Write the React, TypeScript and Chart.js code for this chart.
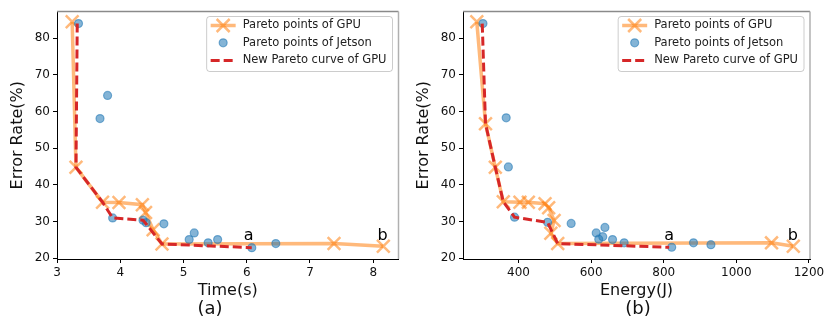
import React, { useEffect, useRef } from 'react';
import { Chart, registerables } from 'chart.js';

Chart.register(...registerables);

const FONT = "'DejaVu Sans', sans-serif";

// ---- data: panel (a) Time ----
const gpuTime = [3.24, 3.30, 3.72, 3.98, 4.35, 4.40, 4.52, 4.66, 7.38, 8.16];
const gpuTimeErr = [84.5, 44.8, 35.3, 35.2, 34.6, 32.5, 27.8, 23.9, 24.0, 23.3];
const jetsonTime = [3.34, 3.68, 3.80, 3.88, 4.36, 4.41, 4.69, 5.09, 5.17, 5.39, 5.54, 6.08, 6.46];
const jetsonTimeErr = [84.0, 58.1, 64.4, 31.0, 30.4, 29.7, 29.4, 25.1, 26.9, 24.2, 25.1, 22.9, 24.0];
const newTime = [3.32, 3.30, 3.72, 3.88, 4.36, 4.66, 6.08];
const newTimeErr = [84.0, 44.8, 35.3, 31.0, 30.4, 23.9, 22.9];

// ---- data: panel (b) Energy ----
const gpuEnergy = [285, 309, 336, 358, 404, 427, 473, 483, 498, 489, 508, 1097, 1157];
const gpuEnergyErr = [84.5, 56.7, 44.8, 35.4, 35.3, 35.3, 34.9, 33.8, 30.3, 26.8, 24.0, 24.2, 23.3];
const jetsonEnergy = [302, 366, 372, 389, 480, 545, 614, 621, 632, 638, 659, 691, 822, 882, 930];
const jetsonEnergyErr = [84.0, 58.3, 44.9, 31.2, 29.8, 29.5, 26.9, 25.2, 25.9, 28.4, 25.1, 24.2, 23.0, 24.2, 23.7];
const newEnergy = [300, 309, 336, 358, 389, 480, 508, 815];
const newEnergyErr = [84.0, 56.7, 44.8, 35.4, 31.2, 29.8, 24.0, 23.0];

// ---- ticks / labels ----
const timeTicks = [3, 4, 5, 6, 7, 8];
const energyTicks = [400, 600, 800, 1000, 1200];
const errorTicks = [20, 30, 40, 50, 60, 70, 80];
const legendLabels = ['Pareto points of GPU', 'Pareto points of Jetson', 'New Pareto curve of GPU'];
const timeNotes = [
  { text: 'a', x: 6.03, y: 25.0 },
  { text: 'b', x: 8.15, y: 25.0 },
];
const energyNotes = [
  { text: 'a', x: 815, y: 25.0 },
  { text: 'b', x: 1156, y: 25.0 },
];

const ORANGE = 'rgba(255,127,14,0.55)';
const BLUE = 'rgba(31,119,180,0.55)';
const RED = '#d62728';

const pts = (xs: number[], ys: number[]) => xs.map((x, i) => ({ x, y: ys[i] }));

const decorPlugin = {
  id: 'decor',
  afterDraw(chart: any, _args: any, opts: any) {
    const { ctx, chartArea: a, scales } = chart;
    ctx.save();
    // top / right spines
    ctx.lineWidth = 1.5;
    ctx.strokeStyle = '#8a8a8a';
    ctx.beginPath();
    ctx.moveTo(a.left, a.top);
    ctx.lineTo(a.right, a.top);
    ctx.stroke();
    ctx.strokeStyle = '#b0b0b0';
    ctx.beginPath();
    ctx.moveTo(a.right, a.top);
    ctx.lineTo(a.right, a.bottom);
    ctx.stroke();

    // annotations
    ctx.font = `16px ${FONT}`;
    ctx.fillStyle = '#000';
    ctx.textAlign = 'center';
    ctx.textBaseline = 'alphabetic';
    const notes = opts.notes || [];
    for (let i = 0; i < notes.length; i++) {
      const n = notes[i];
      ctx.fillText(n.text, scales.x.getPixelForValue(n.x), scales.y.getPixelForValue(n.y));
    }

    // legend
    ctx.font = `11.5px ${FONT}`;
    let textW = 0;
    legendLabels.forEach((l) => {
      textW = Math.max(textW, ctx.measureText(l).width);
    });
    const padL = 4, sample = 25, gap = 7, padR = 6;
    const w = padL + sample + gap + textW + padR;
    const h = 55;
    const x0 = a.right - 6 - w;
    const y0 = a.top + 5;
    ctx.beginPath();
    if (ctx.roundRect) ctx.roundRect(x0, y0, w, h, 3);
    else ctx.rect(x0, y0, w, h);
    ctx.fillStyle = 'rgba(255,255,255,0.85)';
    ctx.fill();
    ctx.lineWidth = 1;
    ctx.strokeStyle = 'rgba(0,0,0,0.2)';
    ctx.stroke();

    const sx = x0 + padL;
    const cx = sx + sample / 2;
    const rows = [y0 + 9, y0 + 26.3, y0 + 44];
    // row 0: orange line + X
    ctx.strokeStyle = ORANGE;
    ctx.lineWidth = 3.5;
    ctx.beginPath();
    ctx.moveTo(sx, rows[0]);
    ctx.lineTo(sx + sample, rows[0]);
    ctx.stroke();
    ctx.lineWidth = 2.5;
    const d = 6.5;
    ctx.beginPath();
    ctx.moveTo(cx - d, rows[0] - d);
    ctx.lineTo(cx + d, rows[0] + d);
    ctx.moveTo(cx - d, rows[0] + d);
    ctx.lineTo(cx + d, rows[0] - d);
    ctx.stroke();
    // row 1: blue circle
    ctx.beginPath();
    ctx.arc(cx, rows[1], 4, 0, Math.PI * 2);
    ctx.fillStyle = BLUE;
    ctx.fill();
    ctx.lineWidth = 1.2;
    ctx.strokeStyle = BLUE;
    ctx.stroke();
    // row 2: red dashed
    ctx.strokeStyle = RED;
    ctx.lineWidth = 3;
    ctx.setLineDash([9, 4]);
    ctx.beginPath();
    ctx.moveTo(sx, rows[2]);
    ctx.lineTo(sx + sample, rows[2]);
    ctx.stroke();
    ctx.setLineDash([]);

    ctx.fillStyle = '#222';
    ctx.textAlign = 'left';
    ctx.textBaseline = 'middle';
    legendLabels.forEach((l, i) => ctx.fillText(l, sx + sample + gap, rows[i]));
    ctx.restore();
  },
};

type PanelProps = {
  gx: number[]; gy: number[]; jx: number[]; jy: number[]; nx: number[]; ny: number[];
  xTicks: number[]; xMin: number; xMax: number; xTitle: string; notes: any[];
  width: number; yWidth: number; padRight: number; yTitlePad: number;
};

function Panel(p: PanelProps) {
  const ref = useRef<HTMLCanvasElement>(null);
  useEffect(() => {
    if (!ref.current) return;
    const chart = new Chart(ref.current, {
      type: 'scatter',
      data: {
        datasets: [
          {
            label: legendLabels[2],
            data: pts(p.nx, p.ny),
            showLine: true,
            borderColor: RED,
            backgroundColor: RED,
            borderWidth: 3,
            borderDash: [9, 4],
            pointRadius: 0,
            order: 0,
          },
          {
            label: legendLabels[1],
            data: pts(p.jx, p.jy),
            pointStyle: 'circle',
            pointRadius: 4,
            pointBackgroundColor: BLUE,
            pointBorderColor: BLUE,
            pointBorderWidth: 1.2,
            order: 1,
          },
          {
            label: legendLabels[0],
            data: pts(p.gx, p.gy),
            showLine: true,
            borderColor: ORANGE,
            borderWidth: 3.5,
            pointStyle: 'crossRot',
            pointRadius: 9,
            pointBorderWidth: 2.5,
            pointBorderColor: ORANGE,
            pointBackgroundColor: ORANGE,
            order: 2,
          },
        ] as any,
      },
      options: {
        animation: false,
        responsive: false,
        layout: { padding: { left: 0, right: p.padRight, top: 10, bottom: 20 } },
        plugins: {
          legend: { display: false },
          tooltip: { enabled: false },
          decor: { notes: p.notes },
        } as any,
        scales: {
          x: {
            type: 'linear',
            min: p.xMin,
            max: p.xMax,
            afterBuildTicks: (s: any) => { s.ticks = p.xTicks.map((v) => ({ value: v })); },
            afterFit: (s: any) => { s.height = 41; },
            ticks: { callback: (v: any) => String(v), font: { size: 12, family: FONT }, color: '#111', padding: 3, maxRotation: 0, autoSkip: false },
            grid: { display: true, drawOnChartArea: false, drawTicks: true, tickLength: 4, color: '#000' },
            border: { display: true, color: '#000', width: 1 },
            title: { display: true, text: p.xTitle, font: { size: 16, family: FONT }, color: '#111', padding: { top: 0, bottom: 0 } },
          },
          y: {
            type: 'linear',
            min: 19.8,
            max: 87.3,
            afterBuildTicks: (s: any) => { s.ticks = errorTicks.map((v) => ({ value: v })); },
            afterFit: (s: any) => { s.width = p.yWidth; },
            ticks: { callback: (v: any) => String(v), font: { size: 12, family: FONT }, color: '#111', padding: 3, autoSkip: false },
            grid: { display: true, drawOnChartArea: false, drawTicks: true, tickLength: 4, color: '#000' },
            border: { display: true, color: '#000', width: 1 },
            title: { display: true, text: 'Error Rate(%)', font: { size: 16, family: FONT }, color: '#111', padding: { top: p.yTitlePad, bottom: 0 } },
          },
        },
      } as any,
      plugins: [decorPlugin],
    });
    return () => chart.destroy();
  }, []);
  return <canvas ref={ref} width={p.width} height={320} style={{ display: 'block', width: p.width, height: 320 }} />;
}

export default function App() {
  const cap: React.CSSProperties = {
    position: 'absolute',
    top: 297,
    transform: 'translateX(-50%)',
    font: `18px ${FONT}`,
    lineHeight: '22px',
    color: '#111',
    whiteSpace: 'nowrap',
  };
  return (
    <div style={{ position: 'fixed', left: 0, top: 0, width: 831, height: 320, background: '#fff', overflow: 'hidden' }}>
      <div style={{ position: 'absolute', left: 0, top: 0 }}>
        <Panel gx={gpuTime} gy={gpuTimeErr} jx={jetsonTime} jy={jetsonTimeErr} nx={newTime} ny={newTimeErr}
          xTicks={timeTicks} xMin={3.0} xMax={8.4} xTitle="Time(s)" notes={timeNotes}
          width={410} yWidth={57} padRight={6} yTitlePad={8} />
      </div>
      <div style={{ position: 'absolute', left: 410, top: 0 }}>
        <Panel gx={gpuEnergy} gy={gpuEnergyErr} jx={jetsonEnergy} jy={jetsonEnergyErr} nx={newEnergy} ny={newEnergyErr}
          xTicks={energyTicks} xMin={247} xMax={1203} xTitle="Energy(J)" notes={energyNotes}
          width={421} yWidth={53} padRight={21} yTitlePad={4} />
      </div>
      <div style={{ ...cap, left: 210 }}>(a)</div>
      <div style={{ ...cap, left: 638 }}>(b)</div>
    </div>
  );
}
